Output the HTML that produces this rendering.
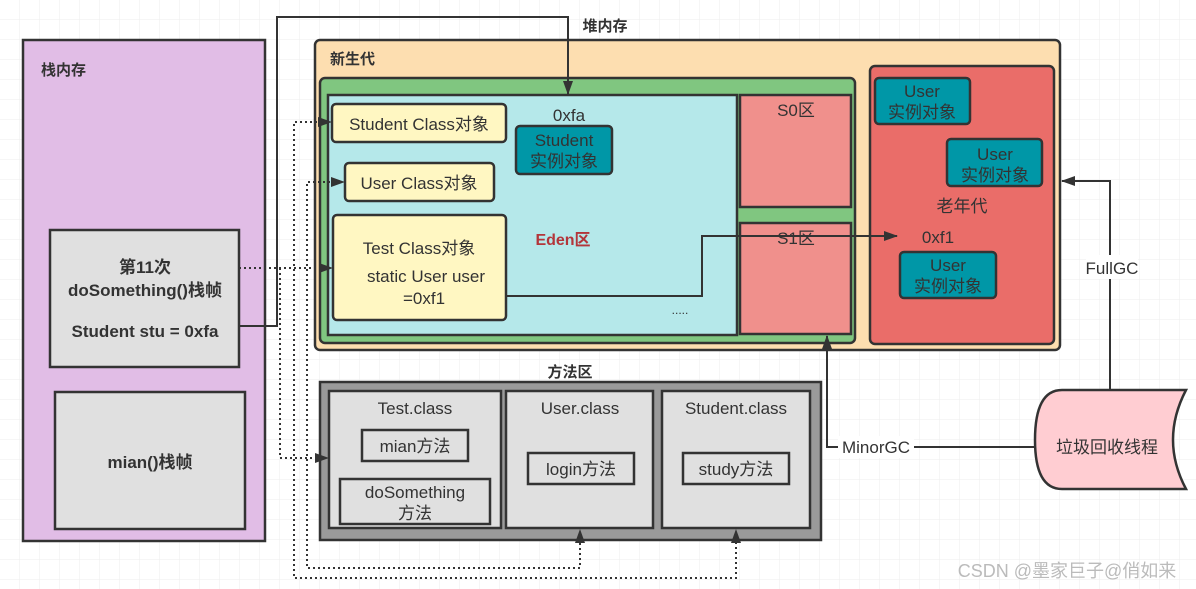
<!DOCTYPE html>
<html><head><meta charset="utf-8"><style>
body{margin:0;background:#fff;}
svg{display:block;font-family:"Liberation Sans","Noto Sans CJK SC",sans-serif;}
</style></head><body>
<svg width="1196" height="589" viewBox="0 0 1196 589" xmlns="http://www.w3.org/2000/svg">
<defs>
<pattern id="g" width="20" height="20" patternUnits="userSpaceOnUse"><path d="M20 0V20H0" fill="none" stroke="#eeeeee" stroke-width="1"/></pattern>
<marker id="a" markerWidth="14" markerHeight="10" refX="13" refY="5" orient="auto" markerUnits="userSpaceOnUse"><path d="M0 0L14 5L0 10z" fill="#333"/></marker>
</defs>
<rect width="1196" height="589" fill="url(#g)"/>
<g stroke="#333" stroke-width="2.5">
<rect x="23" y="40" width="242" height="501" fill="#e1bde6"/>
<rect x="50" y="230" width="189" height="137" fill="#e0e0e0"/>
<rect x="55" y="392" width="190" height="137" fill="#e0e0e0"/>
<rect x="315" y="40" width="745" height="310" rx="5" fill="#fddeb0"/>
<rect x="320" y="78" width="535" height="265" rx="5" fill="#80c680"/>
<rect x="328" y="95" width="409" height="240" fill="#b5e8ea"/>
<rect x="740" y="95" width="111" height="112" fill="#f0908c"/>
<rect x="740" y="223" width="111" height="111" fill="#f0908c"/>
<rect x="332" y="104" width="174" height="38" rx="4" fill="#fff7c2"/>
<rect x="345" y="163" width="149" height="38" rx="4" fill="#fff7c2"/>
<rect x="333" y="215" width="173" height="105" rx="4" fill="#fff7c2"/>
<rect x="516" y="126" width="96" height="48" rx="4" fill="#0097a7"/>
<rect x="870" y="66" width="184" height="278" rx="5" fill="#ea6d69"/>
<rect x="875" y="78" width="95" height="46" rx="4" fill="#0097a7"/>
<rect x="947" y="139" width="95" height="47" rx="4" fill="#0097a7"/>
<rect x="900" y="252" width="96" height="46" rx="4" fill="#0097a7"/>
<rect x="320" y="382" width="501" height="158" fill="#9a9a9a"/>
<rect x="329" y="391" width="172" height="137" fill="#e0e0e0"/>
<rect x="506" y="391" width="147" height="137" fill="#e0e0e0"/>
<rect x="662" y="391" width="148" height="137" fill="#e0e0e0"/>
<rect x="362" y="430" width="106" height="31" fill="#e0e0e0"/>
<rect x="340" y="479" width="150" height="45" fill="#e0e0e0"/>
<rect x="528" y="453" width="106" height="31" fill="#e0e0e0"/>
<rect x="683" y="453" width="106" height="31" fill="#e0e0e0"/>
<path d="M1062 390 H1186 Q1160 440 1186 489 H1062 Q1035 489 1035 440 Q1035 390 1062 390 Z" fill="#ffcdd2"/>
</g>
<g fill="none" stroke="#333" stroke-width="2">
<path d="M239 326 H277 V17 H568 V94" marker-end="url(#a)"/>
<path d="M506 296 H702 V236 H897" marker-end="url(#a)"/>
<path d="M1110 390 V181 H1062" marker-end="url(#a)"/>
<path d="M1035 447 H827 V336" marker-end="url(#a)"/>
</g>
<g fill="none" stroke="#333" stroke-width="2" stroke-dasharray="2 3">
<path d="M322 122 H294 V578 H736 V540" />
<path d="M335 182 H307 V568 H580 V540" />
<path d="M239 268 H322" />
<path d="M280 268 V458 H318" />
</g>
<g fill="#333">
<path d="M332 122 l-14 -5 v10z"/><path d="M345 182 l-14 -5 v10z"/><path d="M333 268 l-14 -5 v10z"/><path d="M329 458 l-14 -5 v10z"/>
<path d="M580 529 l-5 14 h10z"/><path d="M736 529 l-5 14 h10z"/>
</g>
<rect x="1086" y="255" width="52" height="24" fill="#fff"/>
<rect x="838" y="436" width="76" height="22" fill="#fff"/>
<g fill="#333" font-size="17" text-anchor="middle">
<text x="41" y="75" text-anchor="start" font-weight="bold" font-size="15">栈内存</text>
<text x="145" y="273" font-weight="bold">第11次</text>
<text x="145" y="296" font-weight="bold">doSomething()栈帧</text>
<text x="145" y="337" font-weight="bold">Student stu = 0xfa</text>
<text x="150" y="468" font-weight="bold">mian()栈帧</text>
<text x="605" y="31" font-weight="bold" font-size="15">堆内存</text>
<text x="330" y="64" text-anchor="start" font-weight="bold" font-size="15">新生代</text>
<text x="419" y="130">Student Class对象</text>
<text x="419" y="189">User Class对象</text>
<text x="419" y="254">Test Class对象</text>
<text x="426" y="282">static User user</text>
<text x="424" y="304">=0xf1</text>
<text x="569" y="121">0xfa</text>
<text x="564" y="146">Student</text>
<text x="564" y="167">实例对象</text>
<text x="563" y="245" font-weight="bold" fill="#b3353a" font-size="16">Eden区</text>
<text x="680" y="314" font-size="12">.....</text>
<text x="796" y="116">S0区</text>
<text x="796" y="244">S1区</text>
<text x="922" y="97">User</text>
<text x="922" y="118">实例对象</text>
<text x="995" y="160">User</text>
<text x="995" y="181">实例对象</text>
<text x="962" y="212">老年代</text>
<text x="938" y="243">0xf1</text>
<text x="948" y="271">User</text>
<text x="948" y="292">实例对象</text>
<text x="1112" y="274">FullGC</text>
<text x="876" y="453">MinorGC</text>
<text x="1107" y="453">垃圾回收线程</text>
<text x="570" y="377" font-weight="bold" font-size="15">方法区</text>
<text x="415" y="414">Test.class</text>
<text x="580" y="414">User.class</text>
<text x="736" y="414">Student.class</text>
<text x="415" y="452">mian方法</text>
<text x="415" y="498">doSomething</text>
<text x="415" y="519">方法</text>
<text x="581" y="475">login方法</text>
<text x="736" y="475">study方法</text>
<text x="1067" y="577" fill="#bbb" font-size="18">CSDN @墨家巨子@俏如来</text>
</g>
</svg>
</body></html>
